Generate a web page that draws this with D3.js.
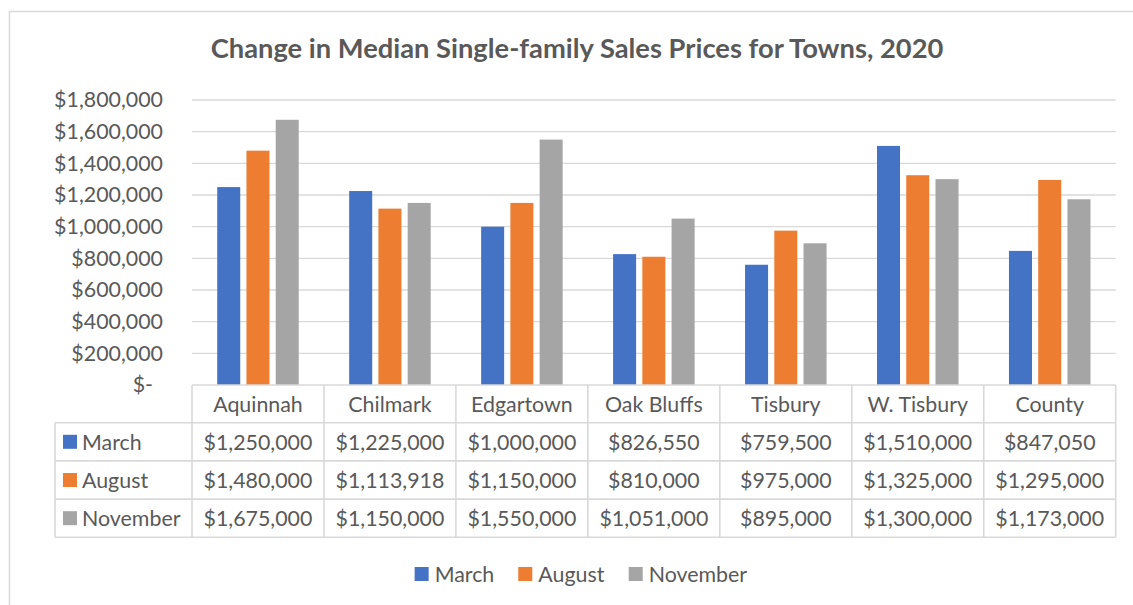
<!DOCTYPE html>
<html>
<head>
<meta charset="utf-8">
<script src="https://cdn.jsdelivr.net/npm/d3@7"></script>
<style>
  body { margin: 0; background: #fff; }
  svg text { font-family: Lato, "Open Sans", sans-serif; fill: #595959; }
</style>
</head>
<body>
<svg id="chart" width="1133" height="605"></svg>
<script>
// Median single-family sales prices by town, 2020
const towns = ["Aquinnah", "Chilmark", "Edgartown", "Oak Bluffs", "Tisbury", "W. Tisbury", "County"];
const seriesNames = ["March", "August", "November"];
const march    = [1250000, 1225000, 1000000, 826550, 759500, 1510000, 847050];
const august   = [1480000, 1113918, 1150000, 810000, 975000, 1325000, 1295000];
const november = [1675000, 1150000, 1550000, 1051000, 895000, 1300000, 1173000];
const seriesColors = ["#4472C4", "#ED7D31", "#A5A5A5"];
const yTickValues = [0, 200000, 400000, 600000, 800000, 1000000, 1200000, 1400000, 1600000, 1800000];
const yTickLabels = ["$-", "$200,000", "$400,000", "$600,000", "$800,000", "$1,000,000",
                     "$1,200,000", "$1,400,000", "$1,600,000", "$1,800,000"];
const chartTitle = "Change in Median Single-family Sales Prices for Towns, 2020";

const seriesValues = [march, august, november];
const series = seriesNames.map((name, i) => ({ name, color: seriesColors[i], values: seriesValues[i] }));

const svg = d3.select("#chart");
const gridColor = "#d9d9d9";

// size a font so that a sample string spans a given width
function fitSize(str, weight, targetW) {
  const t = svg.append("text").attr("font-size", 100).attr("font-weight", weight).text(str);
  const w = t.node().getComputedTextLength();
  t.remove();
  return 100 * targetW / w;
}
const bodySize = fitSize("$1,250,000", 400, 109);
const titleSize = fitSize(chartTitle, 700, 733);

// chart frame
svg.append("rect")
  .attr("x", 9.5).attr("y", 11.5).attr("width", 1160).attr("height", 620)
  .attr("fill", "none").attr("stroke", gridColor).attr("stroke-width", 1.5);

// title
svg.append("text")
  .attr("x", 577).attr("y", 58)
  .attr("text-anchor", "middle")
  .attr("font-size", titleSize).attr("font-weight", 700)
  .text(chartTitle);

// plot geometry
const plot = { left: 192, right: 1115.7, top: 100, bottom: 385 };

const x = d3.scaleBand().domain(towns).range([plot.left, plot.right]).padding(0);
const y = d3.scaleLinear().domain([0, 1800000]).range([plot.bottom, plot.top]);

// bar width follows a 219% gap width and -27% overlap
const barW = x.bandwidth() / 5.73;
const x1 = d3.scaleBand()
  .domain(seriesNames)
  .range([1.095 * barW, x.bandwidth() - 1.095 * barW])
  .paddingInner(0.27 / 1.27)
  .paddingOuter(0);

// gridlines
svg.append("g")
  .selectAll("line")
  .data(yTickValues.filter(v => v > 0))
  .join("line")
  .attr("x1", plot.left).attr("x2", plot.right)
  .attr("y1", d => y(d)).attr("y2", d => y(d))
  .attr("stroke", gridColor).attr("stroke-width", 1.4);

// y axis labels
const yAxis = d3.axisLeft(y)
  .tickValues(yTickValues)
  .tickSize(0)
  .tickPadding(29)
  .tickFormat((d, i) => yTickLabels[i]);
const yg = svg.append("g").attr("transform", `translate(${plot.left},0)`).call(yAxis);
yg.select(".domain").remove();
yg.selectAll("text")
  .attr("font-size", bodySize)
  .attr("font-family", null)
  .attr("dx", d => d === 0 ? -10 : 0);

// bars
const groups = svg.append("g")
  .selectAll("g")
  .data(towns)
  .join("g")
  .attr("transform", d => `translate(${x(d)},0)`);

groups.selectAll("rect")
  .data((town, ti) => series.map(s => ({ name: s.name, color: s.color, value: s.values[ti] })))
  .join("rect")
  .attr("x", d => x1(d.name))
  .attr("width", x1.bandwidth())
  .attr("y", d => y(d.value))
  .attr("height", d => y(0) - y(d.value))
  .attr("fill", d => d.color);

// data table
const table = { left: 55, headerTop: plot.bottom, headerBottom: 422.7, rowH: 38.2 };
const rowTop = i => table.headerBottom + i * table.rowH;
const tableBottom = rowTop(series.length);
const fmt = d3.format("$,");

const tg = svg.append("g");
// horizontal rules
tg.append("line")
  .attr("x1", plot.left).attr("x2", plot.right)
  .attr("y1", table.headerTop).attr("y2", table.headerTop)
  .attr("stroke", gridColor).attr("stroke-width", 1.6);
tg.selectAll("line.h")
  .data(d3.range(series.length + 1))
  .join("line").attr("class", "h")
  .attr("x1", table.left).attr("x2", plot.right)
  .attr("y1", d => rowTop(d)).attr("y2", d => rowTop(d))
  .attr("stroke", gridColor).attr("stroke-width", 1.6);
// vertical rules
tg.append("line")
  .attr("x1", table.left).attr("x2", table.left)
  .attr("y1", table.headerBottom).attr("y2", tableBottom)
  .attr("stroke", gridColor).attr("stroke-width", 1.6);
tg.selectAll("line.v")
  .data(d3.range(towns.length + 1))
  .join("line").attr("class", "v")
  .attr("x1", d => plot.left + d * x.bandwidth()).attr("x2", d => plot.left + d * x.bandwidth())
  .attr("y1", table.headerTop).attr("y2", tableBottom)
  .attr("stroke", gridColor).attr("stroke-width", 1.6);

// header row: town names
tg.selectAll("text.town")
  .data(towns)
  .join("text").attr("class", "town")
  .attr("x", d => x(d) + x.bandwidth() / 2)
  .attr("y", (table.headerTop + table.headerBottom) / 2)
  .attr("dy", "0.36em")
  .attr("text-anchor", "middle")
  .attr("font-size", bodySize)
  .text(d => d);

// series rows
const rows = tg.selectAll("g.row")
  .data(series)
  .join("g").attr("class", "row")
  .attr("transform", (d, i) => `translate(0,${rowTop(i) + table.rowH / 2})`);

rows.append("rect")
  .attr("x", 63).attr("y", -7).attr("width", 14).attr("height", 14)
  .attr("fill", d => d.color);
rows.append("text")
  .attr("x", 82).attr("dy", "0.36em")
  .attr("font-size", bodySize)
  .text(d => d.name);
rows.selectAll("text.val")
  .data(d => d.values.map((v, i) => ({ v, town: towns[i] })))
  .join("text").attr("class", "val")
  .attr("x", d => x(d.town) + x.bandwidth() / 2)
  .attr("dy", "0.36em")
  .attr("text-anchor", "middle")
  .attr("font-size", bodySize)
  .text(d => fmt(d.v));

// legend
const legend = svg.append("g");
const items = legend.selectAll("g")
  .data(series)
  .join("g");
items.append("rect")
  .attr("x", 0).attr("y", -7).attr("width", 14).attr("height", 14)
  .attr("fill", d => d.color);
items.append("text")
  .attr("x", 20).attr("dy", "0.36em")
  .attr("font-size", bodySize)
  .text(d => d.name);
let offset = 0;
const itemWidths = [];
items.each(function () { itemWidths.push(this.getBBox().width); });
const legendGap = 24;
const legendW = d3.sum(itemWidths) + legendGap * (itemWidths.length - 1);
let cursor = 581 - legendW / 2;
items.attr("transform", (d, i) => {
  const t = `translate(${cursor},574)`;
  cursor += itemWidths[i] + legendGap;
  return t;
});
</script>
</body>
</html>
